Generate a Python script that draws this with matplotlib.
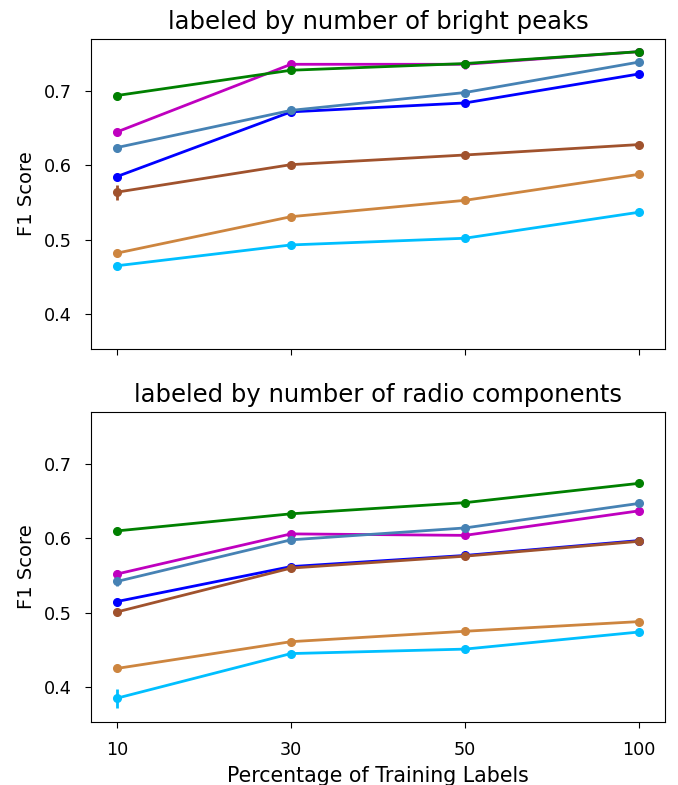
import matplotlib
matplotlib.use('Agg')
import matplotlib.pyplot as plt
import numpy as np

# porcentaje de etiquetas de entrenamiento
porcentajes = ['10', '30', '50', '100']
titulos = ['labeled by number of bright peaks',
           'labeled by number of radio components']
colores = ['blue', 'm', 'steelblue', 'sienna', 'peru', 'deepskyblue', 'green']

# F1 por bright peaks (una lista por color, mismo orden que colores)
f1_peaks = [
    [0.585, 0.672, 0.684, 0.723],
    [0.645, 0.736, 0.736, 0.753],
    [0.624, 0.674, 0.698, 0.739],
    [0.564, 0.601, 0.614, 0.628],
    [0.482, 0.531, 0.553, 0.588],
    [0.465, 0.493, 0.502, 0.537],
    [0.694, 0.728, 0.737, 0.753],
]
err_peaks = [
    [0.003, 0.002, 0.002, 0.002],
    [0.003, 0.002, 0.006, 0.002],
    [0.003, 0.002, 0.002, 0.002],
    [0.010, 0.002, 0.002, 0.002],
    [0.002, 0.002, 0.002, 0.002],
    [0.002, 0.002, 0.002, 0.002],
    [0.002, 0.002, 0.003, 0.002],
]

# F1 por radio components
f1_radio = [
    [0.515, 0.562, 0.577, 0.597],
    [0.552, 0.606, 0.604, 0.637],
    [0.542, 0.598, 0.614, 0.647],
    [0.501, 0.560, 0.576, 0.596],
    [0.425, 0.461, 0.475, 0.488],
    [0.385, 0.445, 0.451, 0.474],
    [0.610, 0.633, 0.648, 0.674],
]
err_radio = [
    [0.003, 0.002, 0.002, 0.002],
    [0.005, 0.002, 0.002, 0.002],
    [0.006, 0.002, 0.002, 0.002],
    [0.003, 0.002, 0.002, 0.002],
    [0.002, 0.002, 0.002, 0.002],
    [0.013, 0.002, 0.002, 0.002],
    [0.002, 0.002, 0.002, 0.002],
]

plt.rcParams['font.size'] = 12

fig, axes = plt.subplots(2, 1, figsize=(6.78, 7.85), dpi=100, sharex=True, sharey=True)
axes[0].set_position([0.134, 0.5554, 0.847, 0.3949])
axes[1].set_position([0.134, 0.0803, 0.847, 0.3949])

x = np.arange(len(porcentajes))
for ax, datos, errores, titulo in zip(axes, [f1_peaks, f1_radio], [err_peaks, err_radio], titulos):
    for valores, err, color in zip(datos, errores, colores):
        ax.errorbar(x, valores, yerr=err, color=color, marker='o', markersize=5.5,
                    linewidth=2, elinewidth=2, capsize=0)
    ax.set_title(titulo, fontsize=17.5, pad=7)
    ax.set_ylabel('F1 Score', fontsize=14, labelpad=6)
    ax.tick_params(labelsize=12.7, length=4.5, pad=9)

axes[1].set_xticks(x)
axes[1].set_xticklabels(porcentajes)
axes[1].set_xlabel('Percentage of Training Labels', fontsize=14.8, labelpad=5)
axes[0].set_yticks([0.4, 0.5, 0.6, 0.7])
axes[0].set_ylim(0.353, 0.770)

plt.savefig('out.png', dpi=100)
